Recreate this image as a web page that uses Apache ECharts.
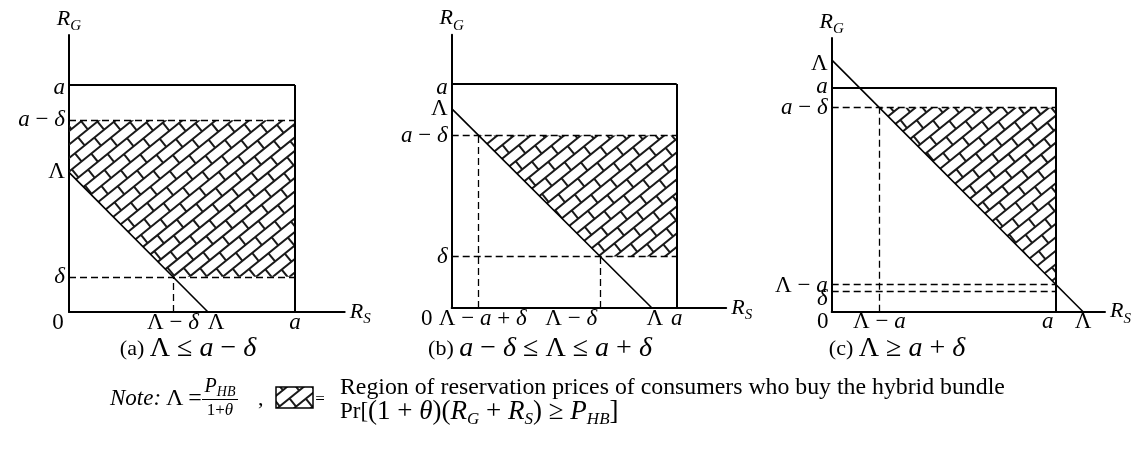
<!DOCTYPE html>
<html>
<head>
<meta charset="utf-8">
<script src="https://cdn.jsdelivr.net/npm/echarts@6.0.0/dist/echarts.min.js"></script>
<style>
  html, body { margin: 0; padding: 0; background: #fff; }
  #main { width: 1137px; height: 453px; }
</style>
</head>
<body>
<div id="main"></div>
<script>
var aVal = 1;
var lambdaVals = [0.615, 0.89, 1.122];
var deltaVals = [0.155, 0.23, 0.091];
var axisMax = 1.22;

// tick label texts (rich markup: {m|..} = italic)
var xTickText = [
  ['0', 'Λ − {m|δ}', 'Λ', '{m|a}'],
  ['0', 'Λ − {m|a} + {m|δ}', 'Λ − {m|δ}', 'Λ', '{m|a}'],
  ['0', 'Λ − {m|a}', '{m|a}', 'Λ']
];
var yTickText = [
  ['{m|a}', '{m|a} − {m|δ}', 'Λ', '{m|δ}'],
  ['{m|a}', 'Λ', '{m|a} − {m|δ}', '{m|δ}'],
  ['Λ', '{m|a}', '{m|a} − {m|δ}', 'Λ − {m|a}', '{m|δ}']
];
var captions = [
  '(a) {u|Λ ≤ }{i|a}{u| − }{i|δ}',
  '(b) {i|a}{u| − }{i|δ}{u| ≤ Λ ≤ }{i|a}{u| + }{i|δ}',
  '(c) {u|Λ ≥ }{i|a}{u| + }{i|δ}'
];

// tick positions in data units, per panel
function xTickVals(L, d) {
  return [
    [0, L - d, L, aVal],
    [0, L - aVal + d, L - d, L, aVal],
    [0, L - aVal + d, aVal, L]
  ];
}
function yTickVals(L, d) {
  return [
    [aVal, aVal - d, L, d],
    [aVal, L, aVal - d, d],
    [L, aVal, aVal - d, L - aVal, d]
  ];
}

// label nudges in px (layout only)
var xTickShift = [[-11, 0, 8, 0], [-25, 4, -29, 3, 0], [-9, 0, -8, 0]];
var yTickShift = [[3, 0, 0, 0], [4, 0, 0, 0], [4, 0, 0, 2, 8]];

var grids = [
  { left: 69, top: 35, width: 275.7, height: 277 },
  { left: 451.7, top: 34.7, width: 274.5, height: 273.3 },
  { left: 831.7, top: 37.9, width: 273.3, height: 273.8 }
];
var captionX = [188, 540, 897];

function dashedSegs(i, L, d) {
  var a = aVal;
  if (i === 0) return [[[0, a - d], [a, a - d]], [[0, d], [a, d]], [[L - d, 0], [L - d, d]]];
  if (i === 1) return [[[0, a - d], [a, a - d]], [[0, d], [a, d]],
    [[L - a + d, 0], [L - a + d, a - d]], [[L - d, 0], [L - d, d]]];
  return [[[0, a - d], [a, a - d]], [[0, L - a], [a, L - a]], [[0, d], [a, d]],
    [[L - a + d, 0], [L - a + d, a - d]]];
}

// clip rectangle [0,a]x[d,a-d] by x+y >= L
function hatchPoly(L, d) {
  var rect = [[0, d], [aVal, d], [aVal, aVal - d], [0, aVal - d]];
  var out = [];
  var f = function (p) { return p[0] + p[1] - L; };
  for (var k = 0; k < rect.length; k++) {
    var p = rect[k], q = rect[(k + 1) % rect.length];
    var fp = f(p), fq = f(q);
    if (fp >= 0) out.push(p);
    if ((fp >= 0) !== (fq >= 0)) {
      var t = fp / (fp - fq);
      out.push([p[0] + t * (q[0] - p[0]), p[1] + t * (q[1] - p[1])]);
    }
  }
  return out;
}

function makeHatch(w, h) {
  var c = document.createElement('canvas');
  c.width = w; c.height = h;
  var ctx = c.getContext('2d');
  ctx.strokeStyle = '#1a1a1a';
  ctx.lineWidth = 2;
  ctx.translate(w / 2, h / 2);
  ctx.rotate(-39 * Math.PI / 180);
  var R = Math.sqrt(w * w + h * h) / 2 + 40;
  var s = 10.5, len = 25;
  ctx.beginPath();
  var n = Math.ceil(R / s);
  for (var k = -n; k <= n; k++) {
    var v = k * s;
    ctx.moveTo(-R, v); ctx.lineTo(R, v);
    var off = Math.abs(k) % 2 ? len / 2 : 0;
    for (var u = -Math.ceil(R / len) * len + off; u < R; u += len) {
      ctx.moveTo(u, v); ctx.lineTo(u, v + s);
    }
  }
  ctx.stroke();
  return c;
}
var hatchFill = { image: makeHatch(1137, 453), repeat: 'repeat' };

var FONT = 'Liberation Serif';
var labelRich = {
  m: { fontFamily: FONT, fontStyle: 'italic', fontSize: 23, color: '#000' }
};
var nameRich = {
  m: { fontFamily: FONT, fontStyle: 'italic', fontSize: 22, lineHeight: 30, color: '#000' },
  s: { fontFamily: FONT, fontStyle: 'italic', fontSize: 15, lineHeight: 15, verticalAlign: 'bottom', color: '#000' }
};

var chart = echarts.init(document.getElementById('main'));
var xAxes = [], yAxes = [], series = [], gridOpts = [];

for (var i = 0; i < 3; i++) {
  var L = lambdaVals[i], d = deltaVals[i];
  gridOpts.push(Object.assign({ containLabel: false, outerBoundsMode: 'none' }, grids[i]));
  var axisBase = {
    gridIndex: i, type: 'value', min: 0, max: axisMax,
    axisLine: { show: true, onZero: false, lineStyle: { color: '#000', width: 2 } },
    axisTick: { show: false }, axisLabel: { show: false }, splitLine: { show: false },
    nameLocation: 'end', nameTextStyle: { rich: nameRich }
  };
  xAxes.push(Object.assign({}, axisBase, { name: '{m|R}{s|S}', nameGap: 5 }));
  yAxes.push(Object.assign({}, axisBase, { name: '{m|R}{s|G}', nameGap: 1 }));

  (function (poly) {
    series.push({
      type: 'custom', xAxisIndex: i, yAxisIndex: i, silent: true, z: 1,
      data: [[0, 0]],
      renderItem: function (params, api) {
        return {
          type: 'polygon',
          shape: { points: poly.map(function (p) { return api.coord(p); }) },
          style: { fill: hatchFill, stroke: null }
        };
      }
    });
  })(hatchPoly(L, d));

  series.push({
    type: 'lines', coordinateSystem: 'cartesian2d', xAxisIndex: i, yAxisIndex: i,
    silent: true, z: 3,
    lineStyle: { color: '#000', width: 1.3, opacity: 1, type: [7, 4] },
    data: dashedSegs(i, L, d).map(function (s) { return { coords: s }; })
  });
  series.push({
    type: 'lines', coordinateSystem: 'cartesian2d', xAxisIndex: i, yAxisIndex: i,
    silent: true, z: 4,
    lineStyle: { color: '#000', width: 2, opacity: 1, type: 'solid' },
    data: [[[0, aVal], [aVal, aVal]], [[aVal, aVal], [aVal, 0]]].map(function (s) { return { coords: s }; })
  });
  series.push({
    type: 'lines', coordinateSystem: 'cartesian2d', xAxisIndex: i, yAxisIndex: i,
    silent: true, z: 4,
    lineStyle: { color: '#000', width: 1.6, opacity: 1, type: 'solid' },
    data: [{ coords: [[0, L], [L, 0]] }]
  });

  var xv = xTickVals(L, d)[i], yv = yTickVals(L, d)[i];
  series.push({
    type: 'scatter', xAxisIndex: i, yAxisIndex: i, symbolSize: 0.01, silent: true, z: 5,
    itemStyle: { opacity: 1 },
    label: {
      show: true, position: 'bottom', distance: 0,
      fontFamily: FONT, fontSize: 23, color: '#000', opacity: 1, rich: labelRich,
      formatter: function (p) { return p.name; }
    },
    data: xv.map(function (v, k) {
      return { name: xTickText[i][k], value: [v, 0], label: { offset: [xTickShift[i][k], -1] } };
    })
  });
  series.push({
    type: 'scatter', xAxisIndex: i, yAxisIndex: i, symbolSize: 0.01, silent: true, z: 5,
    itemStyle: { opacity: 1 },
    label: {
      show: true, position: 'left', distance: 4,
      fontFamily: FONT, fontSize: 23, color: '#000', opacity: 1, rich: labelRich,
      formatter: function (p) { return p.name; }
    },
    data: yv.map(function (v, k) {
      return { name: yTickText[i][k], value: [0, v], label: { offset: [0, yTickShift[i][k]] } };
    })
  });
}

var capRich = {
  u: { fontFamily: FONT, fontSize: 28, color: '#000' },
  i: { fontFamily: FONT, fontSize: 28, fontStyle: 'italic', color: '#000' }
};
var mathRich = {
  u: { fontFamily: FONT, fontSize: 27, lineHeight: 32, color: '#000' },
  i: { fontFamily: FONT, fontSize: 27, fontStyle: 'italic', lineHeight: 32, color: '#000' },
  s: { fontFamily: FONT, fontSize: 17, fontStyle: 'italic', lineHeight: 17, verticalAlign: 'bottom', color: '#000' }
};
var fracRich = {
  i: { fontFamily: FONT, fontSize: 20, fontStyle: 'italic', lineHeight: 24, color: '#000' },
  u: { fontFamily: FONT, fontSize: 17, lineHeight: 22, color: '#000' },
  t: { fontFamily: FONT, fontSize: 17, fontStyle: 'italic', lineHeight: 22, color: '#000' },
  s: { fontFamily: FONT, fontSize: 14, fontStyle: 'italic', lineHeight: 14, verticalAlign: 'bottom', color: '#000' }
};

var graphics = captions.map(function (t, k) {
  return {
    type: 'text', silent: true,
    style: { text: t, x: captionX[k], y: 349, align: 'center', verticalAlign: 'middle',
      fontFamily: FONT, fontSize: 22, fill: '#000', rich: capRich }
  };
});
graphics.push(
  { type: 'text', silent: true, style: { text: 'Note:', x: 110, y: 399, align: 'left', verticalAlign: 'middle',
    fontFamily: FONT, fontStyle: 'italic', fontSize: 23, fill: '#000' } },
  { type: 'text', silent: true, style: { text: 'Λ\u2009=', x: 166, y: 399, align: 'left', verticalAlign: 'middle',
    fontFamily: FONT, fontSize: 24, fill: '#000' } },
  { type: 'text', silent: true, style: { text: '{i|P}{s|HB}', x: 220, y: 387, align: 'center', verticalAlign: 'middle',
    fill: '#000', rich: fracRich } },
  { type: 'line', silent: true, shape: { x1: 202, y1: 399.5, x2: 238, y2: 399.5 }, style: { stroke: '#000', lineWidth: 1 } },
  { type: 'text', silent: true, style: { text: '{u|1+}{t|θ}', x: 220, y: 411, align: 'center', verticalAlign: 'middle',
    fill: '#000', rich: fracRich } },
  { type: 'text', silent: true, style: { text: ',', x: 258, y: 399, align: 'left', verticalAlign: 'middle',
    fontFamily: FONT, fontSize: 22, fill: '#000' } },
  { type: 'rect', silent: true, shape: { x: 276, y: 387, width: 37, height: 21 },
    style: { fill: hatchFill, stroke: '#000', lineWidth: 1.5 } },
  { type: 'text', silent: true, style: { text: '=', x: 320, y: 400, align: 'center', verticalAlign: 'middle',
    fontFamily: FONT, fontSize: 17, fill: '#000' } },
  { type: 'text', silent: true, style: { text: 'Region of reservation prices of consumers who buy the hybrid bundle',
    x: 340, y: 388, align: 'left', verticalAlign: 'middle', fontFamily: FONT, fontSize: 23.8, fill: '#000' } },
  { type: 'text', silent: true, style: { text: 'Pr[{u|(1 + }{i|θ}{u|)(}{i|R}{s|G}{u| + }{i|R}{s|S}{u|) ≥ }{i|P}{s|HB}{u|]}',
    x: 340, y: 412, align: 'left', verticalAlign: 'middle', fontFamily: FONT, fontSize: 23, fill: '#000', rich: mathRich } }
);

chart.setOption({
  backgroundColor: '#fff',
  animation: false,
  grid: gridOpts,
  xAxis: xAxes,
  yAxis: yAxes,
  series: series,
  graphic: graphics
});
</script>
</body>
</html>
